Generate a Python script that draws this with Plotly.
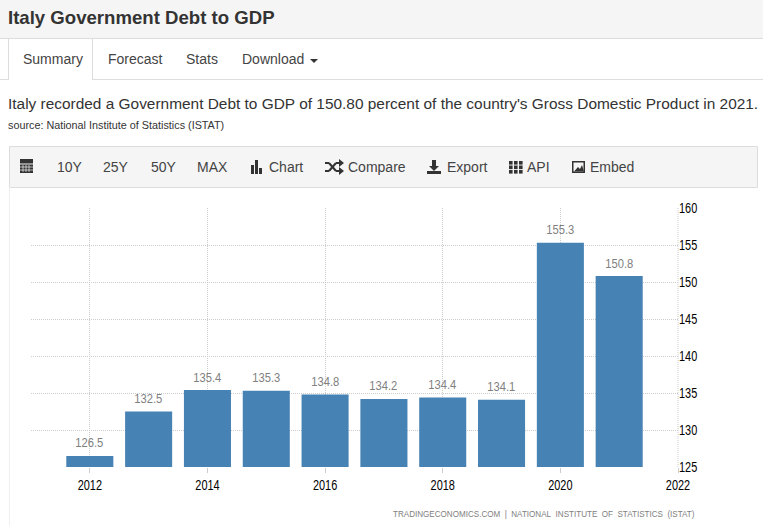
import plotly.graph_objects as go

years = [2012, 2013, 2014, 2015, 2016, 2017, 2018, 2019, 2020, 2021]
debt = [126.5, 132.5, 135.4, 135.3, 134.8, 134.2, 134.4, 134.1, 155.3, 150.8]
tab_labels = ["Summary", "Forecast", "Stats", "Download"]
tool_labels = ["10Y", "25Y", "50Y", "MAX", "Chart", "Compare", "Export", "API", "Embed"]

W, H = 763, 526
L, R, T, B = 31, 678, 208, 467
SANS = "Liberation Sans"
DARK = "#333333"


def px(x):
    return (x - L) / (R - L)


def py(y):
    return (B - y) / (B - T)


shapes = []
annotations = []


def rect(x0, y0, x1, y1, fill=None, line=None, width=1):
    shapes.append(dict(type="rect", xref="paper", yref="paper", layer="below",
                       x0=px(x0), x1=px(x1), y0=py(y0), y1=py(y1),
                       fillcolor=fill or "rgba(0,0,0,0)",
                       line=dict(color=line or "rgba(0,0,0,0)", width=width if line else 0)))


def seg(x0, y0, x1, y1, color, width=1):
    shapes.append(dict(type="line", xref="paper", yref="paper", layer="below",
                       x0=px(x0), x1=px(x1), y0=py(y0), y1=py(y1),
                       line=dict(color=color, width=width)))


def text(x, y, s, size=14, color=DARK, bold=False, anchor="left"):
    annotations.append(dict(xref="paper", yref="paper", x=px(x), y=py(y), text=f"<b>{s}</b>" if bold else s,
                            showarrow=False, xanchor=anchor, yanchor="middle", align="left",
                            font=dict(family=SANS, size=size, color=color),
                            borderpad=0, borderwidth=0))


# page header
rect(0, 0, W, 38, fill="#f5f5f5")
seg(0, 38.5, W, 38.5, "#dddddd")
text(8, 18, "Italy Government Debt to GDP", size=18.6, bold=True)

# tabs
seg(0, 79.5, W, 79.5, "#dddddd")
rect(8.5, 39, 92.5, 80, fill="#ffffff")
seg(8.5, 39, 8.5, 80, "#dddddd")
seg(92.5, 39, 92.5, 80, "#dddddd")
for x, s in zip([23, 108, 186, 242], tab_labels):
    text(x, 59, s, size=14, color="#444444")
shapes.append(dict(type="path", xref="paper", yref="paper", layer="below",
                   path=f"M {px(310)} {py(59)} L {px(318)} {py(59)} L {px(314)} {py(63)} Z",
                   fillcolor=DARK, line=dict(width=0)))

# headline
text(8, 104, "Italy recorded a Government Debt to GDP of 150.80 percent of the country's Gross Domestic Product in 2021.",
     size=15.43, color="#333333")
text(8, 125, "source: National Institute of Statistics (ISTAT)", size=10.8, color="#333333")

# toolbar
rect(9.5, 146.5, 757.5, 187.5, fill="#f5f5f5", line="#dddddd")
for x, s in zip([57, 103, 151, 197, 269, 348, 447, 527, 590], tool_labels):
    text(x, 167, s, size=14, color="#444444")

# toolbar icons
ic = "#333333"
# calendar
rect(20, 159, 33, 173, fill=ic)
for gx in (23, 26, 29):
    seg(gx, 165, gx, 172, "#f5f5f5", 0.7)
for gy in (167, 170):
    seg(20, gy, 33, gy, "#f5f5f5", 0.7)
seg(20, 164, 33, 164, "#f5f5f5", 1)
# chart bars
rect(251, 165, 254, 174, fill=ic)
rect(255, 160, 258, 174, fill=ic)
rect(259, 168, 262, 174, fill=ic)
# shuffle arrows
seg(325, 163, 329, 163, ic, 2)
seg(329, 163, 336, 171, ic, 2)
seg(336, 171, 340, 171, ic, 2)
seg(325, 171, 329, 171, ic, 2)
seg(329, 171, 336, 163, ic, 2)
seg(336, 163, 340, 163, ic, 2)
for tip_y in (163, 171):
    shapes.append(dict(type="path", xref="paper", yref="paper", layer="below",
                       path=f"M {px(339)} {py(tip_y-4)} L {px(344)} {py(tip_y)} L {px(339)} {py(tip_y+4)} Z",
                       fillcolor=ic, line=dict(width=0)))
# export
rect(427, 171, 441, 174, fill=ic)
rect(432, 160, 436, 166, fill=ic)
shapes.append(dict(type="path", xref="paper", yref="paper", layer="below",
                   path=f"M {px(429)} {py(166)} L {px(439)} {py(166)} L {px(434)} {py(171)} Z",
                   fillcolor=ic, line=dict(width=0)))
# api grid
for gx in (509, 514, 519):
    for gy in (161, 165.5, 170):
        rect(gx, gy, gx + 3.6, gy + 3.6, fill=ic)
# embed picture
rect(572, 161, 585, 173, fill=ic)
rect(573.5, 162.5, 583.5, 171.5, fill="#f5f5f5")
shapes.append(dict(type="path", xref="paper", yref="paper", layer="below",
                   path=f"M {px(574)} {py(171.5)} L {px(578)} {py(167)} L {px(580)} {py(169)} L {px(582)} {py(165)} L {px(584)} {py(171.5)} Z",
                   fillcolor=ic, line=dict(width=0)))

# chart frame
seg(9.5, 187, 9.5, H, "#f0f0f0")

# source line
text(393, 513, "TRADINGECONOMICS.COM&nbsp;&nbsp;|&nbsp;&nbsp;NATIONAL&nbsp;&nbsp;INSTITUTE&nbsp;&nbsp;OF&nbsp;&nbsp;STATISTICS&nbsp;&nbsp;(ISTAT)",
     size=9.5, color="#808080", anchor="left")

# value labels above the bars
for yr, v in zip(years, debt):
    annotations.append(dict(xref="x", yref="y", x=yr, y=v, text=f"{v:.1f}", showarrow=False,
                            yshift=13, xanchor="center", yanchor="middle",
                            font=dict(family=SANS, size=13, color="#808080")))

fig = go.Figure(go.Bar(
    x=years, y=debt, width=0.8,
    marker=dict(color="#4682b4", line=dict(width=0)),
))
fig.update_layout(
    width=W, height=H, margin=dict(l=L, r=W - R, t=T, b=H - B, pad=0),
    paper_bgcolor="#ffffff", plot_bgcolor="#ffffff",
    showlegend=False, shapes=shapes, annotations=annotations,
)
DOT = "1px,1px"
fig.update_xaxes(
    range=[2011, 2022], tickmode="array", tickvals=[2012, 2014, 2016, 2018, 2020, 2022],
    ticks="outside", ticklen=5, tickcolor="#cccccc", tickwidth=1,
    tickfont=dict(family=SANS, size=14, color="#000000"),
    showgrid=True, gridcolor="#cccccc", griddash=DOT, gridwidth=1,
    zeroline=False, showline=False, fixedrange=True,
)
fig.update_yaxes(
    range=[125, 160], side="right", tickmode="array", tickvals=list(range(125, 161, 5)),
    ticks="", tickfont=dict(family=SANS, size=14, color="#000000"),
    showgrid=True, gridcolor="#cccccc", griddash=DOT, gridwidth=1,
    zeroline=False, showline=False, fixedrange=True,
)
fig.add_shape(type="line", xref="paper", yref="paper", x0=1, x1=1, y0=0, y1=1,
              line=dict(color="#cccccc", width=1, dash=DOT), layer="below")

# The original's chart text is set in a condensed face: narrow those labels in the SVG.
condense = """
document.body.style.margin='0';
document.documentElement.style.overflow='hidden';
function squeeze(el, f){
  var n = el.getComputedTextLength();
  el.setAttribute('lengthAdjust','spacingAndGlyphs');
  el.setAttribute('textLength', n*f);
}
document.querySelectorAll('.xtick text').forEach(function(e){squeeze(e,0.78);});
document.querySelectorAll('.ytick text').forEach(function(e){squeeze(e,0.78);});
document.querySelectorAll('.annotation-text').forEach(function(e){
  var s = e.textContent;
  if (/^\\d+\\.\\d$/.test(s)) squeeze(e,0.86);
  if (s.indexOf('TRADING')===0) squeeze(e,0.85);
});
"""
fig.write_html("out.html", config=dict(displayModeBar=False), post_script=condense)
